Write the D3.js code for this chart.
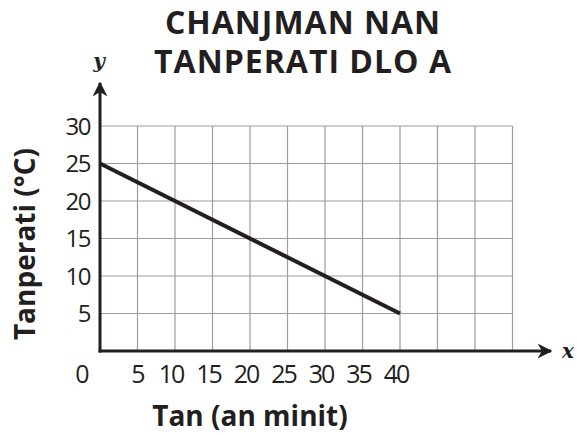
<!DOCTYPE html>
<html>
<head>
<meta charset="utf-8">
<script src="https://cdn.jsdelivr.net/npm/d3@7"></script>
<style>
  body { margin: 0; background: #fff; }
  text { font-family: "Open Sans", "Noto Sans", sans-serif; fill: #231f20; }
</style>
</head>
<body>
<div id="chart"></div>
<script>
// data
var titleLines = ["CHANJMAN NAN", "TANPERATI DLO A"];
var lineMinutes = [0, 40];
var lineTemps = [25, 5];
var xTicks = [5, 10, 15, 20, 25, 30, 35, 40];
var yTicks = [5, 10, 15, 20, 25, 30];
var xGridMax = 55;
var yGridMax = 30;

var W = 577, H = 435;
var svg = d3.select("#chart").append("svg")
    .attr("width", W)
    .attr("height", H);

// scales: origin at (100, 351), 37.5px per 5 units
var x = d3.scaleLinear().domain([0, 55]).range([100, 512.5]);
var y = d3.scaleLinear().domain([0, 30]).range([351, 126]);

// grid
var grid = svg.append("g").attr("stroke", "#9d9d9d").attr("stroke-width", 1.2);
grid.selectAll(".vg")
    .data(d3.range(5, xGridMax + 1, 5))
    .enter().append("line")
    .attr("x1", function (d) { return x(d); })
    .attr("x2", function (d) { return x(d); })
    .attr("y1", y(0))
    .attr("y2", y(yGridMax));
grid.selectAll(".hg")
    .data(d3.range(5, yGridMax + 1, 5))
    .enter().append("line")
    .attr("x1", x(0))
    .attr("x2", x(xGridMax))
    .attr("y1", function (d) { return y(d); })
    .attr("y2", function (d) { return y(d); });

// arrow marker
svg.append("defs").append("marker")
    .attr("id", "arrow")
    .attr("viewBox", "0 0 10 10")
    .attr("refX", 9).attr("refY", 5)
    .attr("markerWidth", 5).attr("markerHeight", 5)
    .attr("markerUnits", "strokeWidth")
    .attr("orient", "auto")
    .append("path")
    .attr("d", "M0,0 L10,5 L0,10 L3,5 Z")
    .attr("fill", "#231f20");

// axes
svg.append("line")
    .attr("x1", x(0) - 1.5).attr("x2", 551)
    .attr("y1", y(0)).attr("y2", y(0))
    .attr("stroke", "#231f20").attr("stroke-width", 3)
    .attr("marker-end", "url(#arrow)");
svg.append("line")
    .attr("x1", x(0)).attr("x2", x(0))
    .attr("y1", y(0) + 1.5).attr("y2", 83)
    .attr("stroke", "#231f20").attr("stroke-width", 3)
    .attr("marker-end", "url(#arrow)");

// data line
var line = d3.line()
    .x(function (d, i) { return x(lineMinutes[i]); })
    .y(function (d) { return y(d); });
svg.append("path")
    .datum(lineTemps)
    .attr("d", line)
    .attr("fill", "none")
    .attr("stroke", "#231f20")
    .attr("stroke-width", 4);

// tick labels (two-digit labels sit a bit left of their grid line)
svg.selectAll(".xt")
    .data(xTicks)
    .enter().append("text")
    .attr("x", function (d) { return x(d) - (d >= 10 ? 4 : 0); })
    .attr("y", 383)
    .attr("text-anchor", "middle")
    .style("font-size", "25px")
    .style("letter-spacing", "-2px")
    .text(function (d) { return d; });
svg.append("text")
    .attr("x", 82.5).attr("y", 383)
    .attr("text-anchor", "middle")
    .style("font-size", "25px")
    .text("0");
svg.selectAll(".yt")
    .data(yTicks)
    .enter().append("text")
    .attr("x", 90)
    .attr("y", function (d) { return y(d) + 8.5; })
    .attr("text-anchor", "end")
    .style("font-size", "24px")
    .style("letter-spacing", "-1.5px")
    .text(function (d) { return d; });

// axis letters
svg.append("text")
    .attr("x", 568).attr("y", 358)
    .attr("text-anchor", "middle")
    .style("font-family", "'DejaVu Serif', serif")
    .style("font-style", "italic").style("font-weight", "bold")
    .style("font-size", "20px")
    .text("x");
svg.append("text")
    .attr("x", 99).attr("y", 68)
    .attr("text-anchor", "middle")
    .style("font-family", "'DejaVu Serif', serif")
    .style("font-style", "italic").style("font-weight", "bold")
    .style("font-size", "20px")
    .text("y");

// axis titles
svg.append("text")
    .attr("x", 250).attr("y", 426)
    .attr("text-anchor", "middle")
    .style("font-size", "28px").style("font-weight", "bold")
    .text("Tan (an minit)");
svg.append("text")
    .attr("transform", "translate(35,244) rotate(-90)")
    .attr("text-anchor", "middle")
    .style("font-size", "28px").style("font-weight", "bold")
    .text("Tanperati (°C)");

// title
svg.selectAll(".title")
    .data(titleLines)
    .enter().append("text")
    .attr("x", 303)
    .attr("y", function (d, i) { return 34 + i * 39; })
    .attr("text-anchor", "middle")
    .style("font-size", "32px").style("font-weight", "bold")
    .style("letter-spacing", "1px")
    .text(function (d) { return d; });
</script>
</body>
</html>
